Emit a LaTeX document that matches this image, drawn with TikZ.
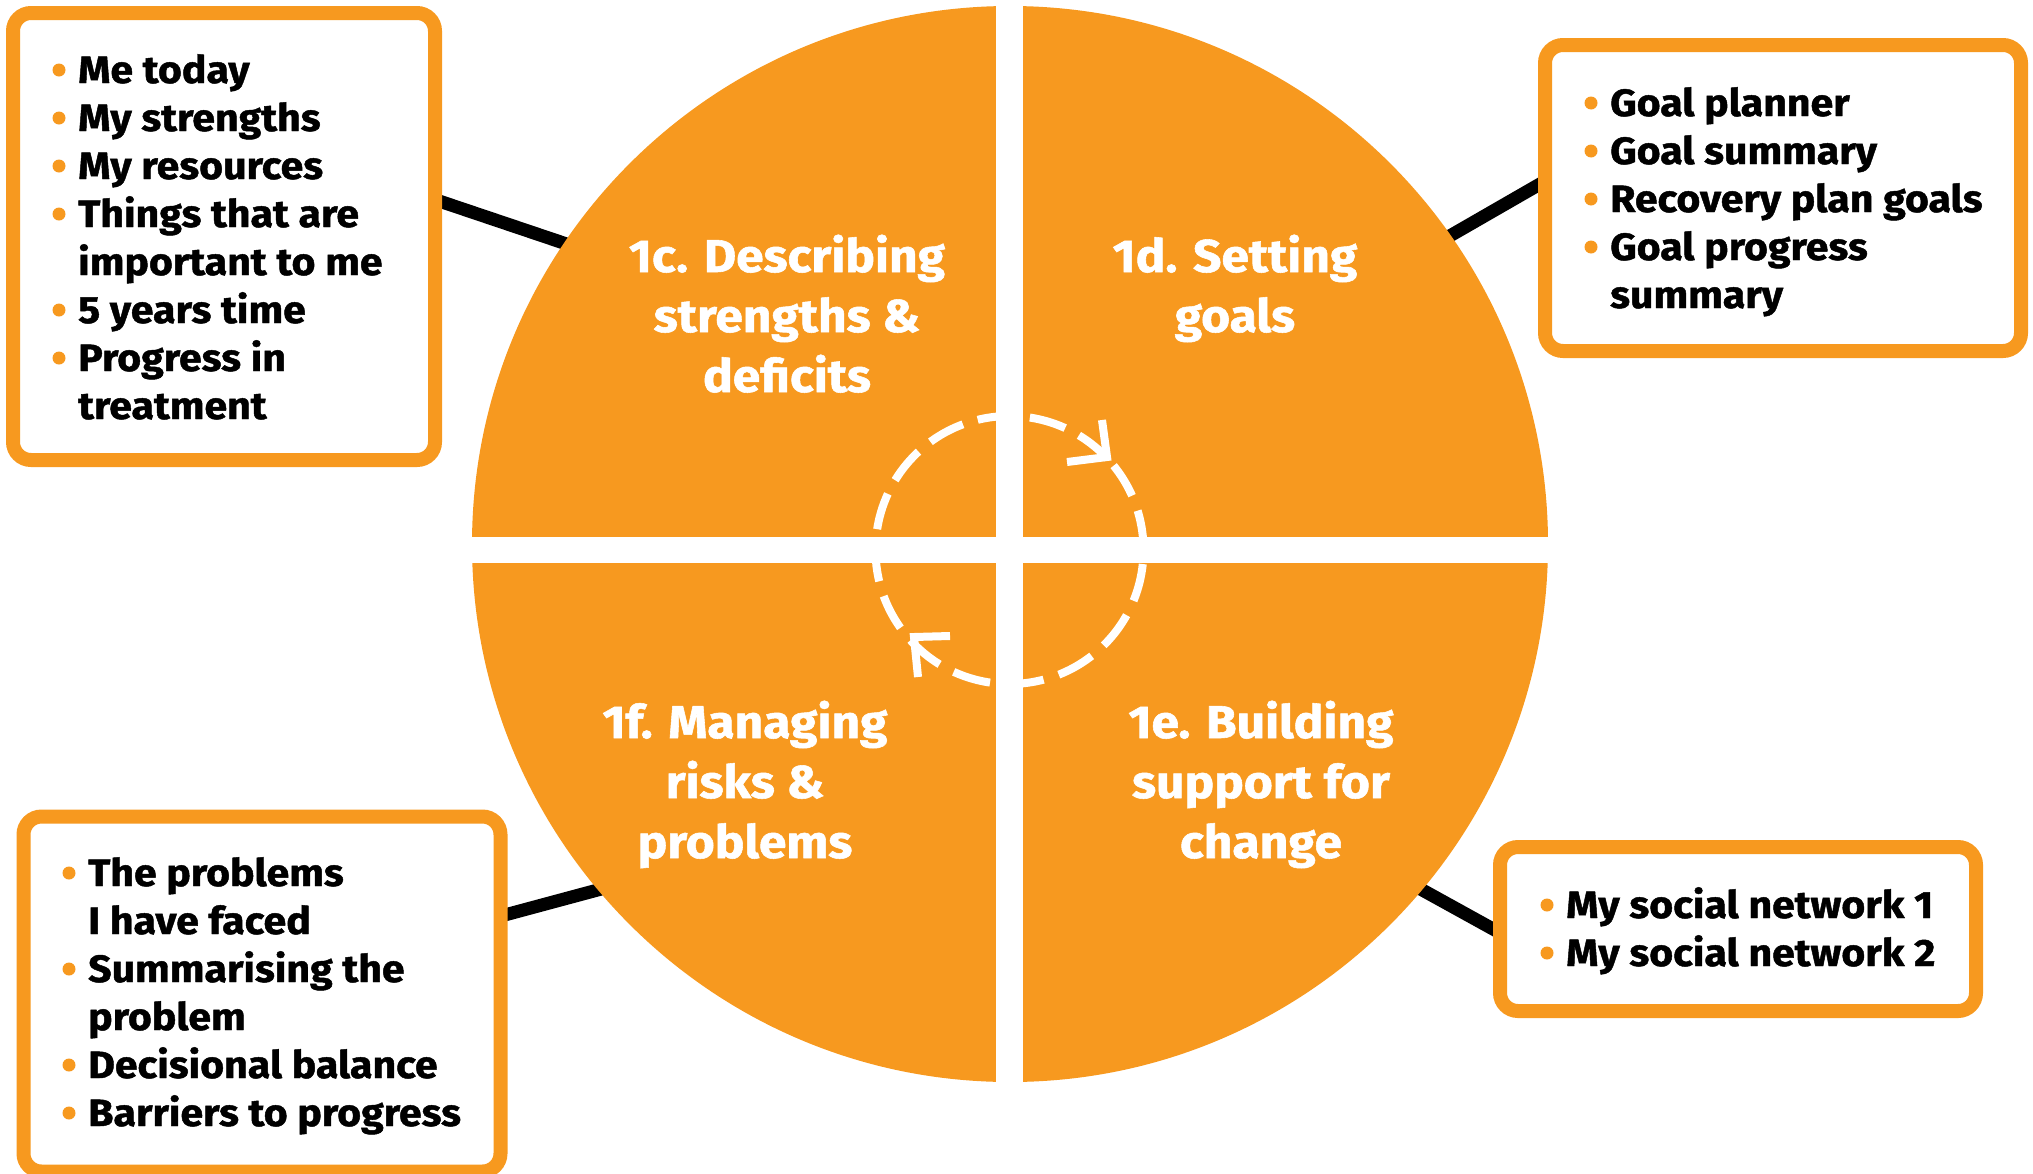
\documentclass[tikz,border=0pt]{standalone}
\usepackage{fontspec}
\setmainfont{Fira Sans}[BoldFeatures={FakeStretch=1.08,FakeBold=1.2}]
\usetikzlibrary{backgrounds}
\definecolor{ora}{RGB}{247,153,31}
\begin{document}
\begin{tikzpicture}[x=1pt,y=-1pt,
  listbox/.style={draw=ora, fill=white, line width=14pt, rounded corners=18pt, inner sep=0pt},
  discshape/.style={circle, fill=ora, inner sep=0pt, minimum size=1076pt},
  quadtext/.style={anchor=base, text=white, inner sep=0pt, font=\fontsize{46}{60}\selectfont\bfseries},
  listtext/.style={anchor=base west, inner sep=0pt, font=\fontsize{38}{48}\selectfont\bfseries},
  link/.style={line width=13pt, black, shorten <=-6pt, shorten >=-6pt},
  cyclearc/.style={white, line width=8pt, dash pattern=on 38pt off 16pt},
  cyclehead/.style={white, line width=8pt, line join=miter},
  gap/.style={fill=white}
]
\useasboundingbox (0,0) rectangle (2033,1173);

% main disc
\node[discshape] (disc) at (1010,544) {};
\fill[gap] (996,0) rectangle (1023,1100);
\fill[gap] (450,537) rectangle (1570,563);

% quadrant titles
\node[quadtext] (q1c) at (787,272) {\begin{tabular}[t]{@{}c@{}}1c. Describing\\strengths \&\\deficits\end{tabular}};
\node[quadtext] (q1d) at (1235,272) {\begin{tabular}[t]{@{}c@{}}1d. Setting\\goals\end{tabular}};
\node[quadtext] (q1f) at (745,738) {\begin{tabular}[t]{@{}c@{}}1f. Managing\\risks \&\\problems\end{tabular}};
\node[quadtext] (q1e) at (1261,738) {\begin{tabular}[t]{@{}c@{}}1e. Building\\support for\\change\end{tabular}};

% dashed cycle (drawn backwards from each arrow tip)
\coordinate (cyc) at (1009.5,550);
\draw[cyclearc] (cyc) ++(137.7:134) arc[start angle=137.7, end angle=-39, radius=134];
\draw[cyclearc, dash pattern=on 37pt off 15.5pt] (cyc) ++(317:134) arc[start angle=317, end angle=144.5, radius=134];
\draw[cyclehead] (1067,462) -- (1107,457) -- (1102,420);
\draw[cyclehead] (950,636) -- (914,637) -- (918,677);

% boxes
\node[listbox, minimum width=422pt, minimum height=447pt] (b1) at (224,236.5) {};
\node[listbox, minimum width=476pt, minimum height=306pt] (b2) at (1783,198) {};
\node[listbox, minimum width=477pt, minimum height=355pt] (b3) at (262,994) {};
\node[listbox, minimum width=476pt, minimum height=164pt] (b4) at (1738,929) {};

% connectors
\begin{pgfonlayer}{background}
\draw[link] (b1.9) -- (disc.146);
\draw[link] (b2.177) -- (disc.35);
\draw[link] (b3.18) -- (disc.220);
\draw[link] (b4.west) -- (disc.320);
\end{pgfonlayer}

% list texts
\node[listtext] (t1) at (78,83) {\begin{tabular}[t]{@{}l@{}}Me today\\My strengths\\My resources\\Things that are\\important to me\\5 years time\\Progress in\\treatment\end{tabular}};
\foreach \yy in {70,118,166,214,310,358} \fill[ora] (59,\yy) circle[radius=6.5];

\node[listtext] (t2) at (1610,116) {\begin{tabular}[t]{@{}l@{}}Goal planner\\Goal summary\\Recovery plan goals\\Goal progress\\summary\end{tabular}};
\foreach \yy in {103,151,199,247} \fill[ora] (1591,\yy) circle[radius=6.5];

\node[listtext] (t3) at (88,886) {\begin{tabular}[t]{@{}l@{}}The problems\\I have faced\\Summarising the\\problem\\Decisional balance\\Barriers to progress\end{tabular}};
\foreach \yy in {873,969,1065,1113} \fill[ora] (69,\yy) circle[radius=6.5];

\node[listtext] (t4) at (1566,918) {\begin{tabular}[t]{@{}l@{}}My social network 1\\My social network 2\end{tabular}};
\foreach \yy in {905,953} \fill[ora] (1547,\yy) circle[radius=6.5];
\end{tikzpicture}
\end{document}
